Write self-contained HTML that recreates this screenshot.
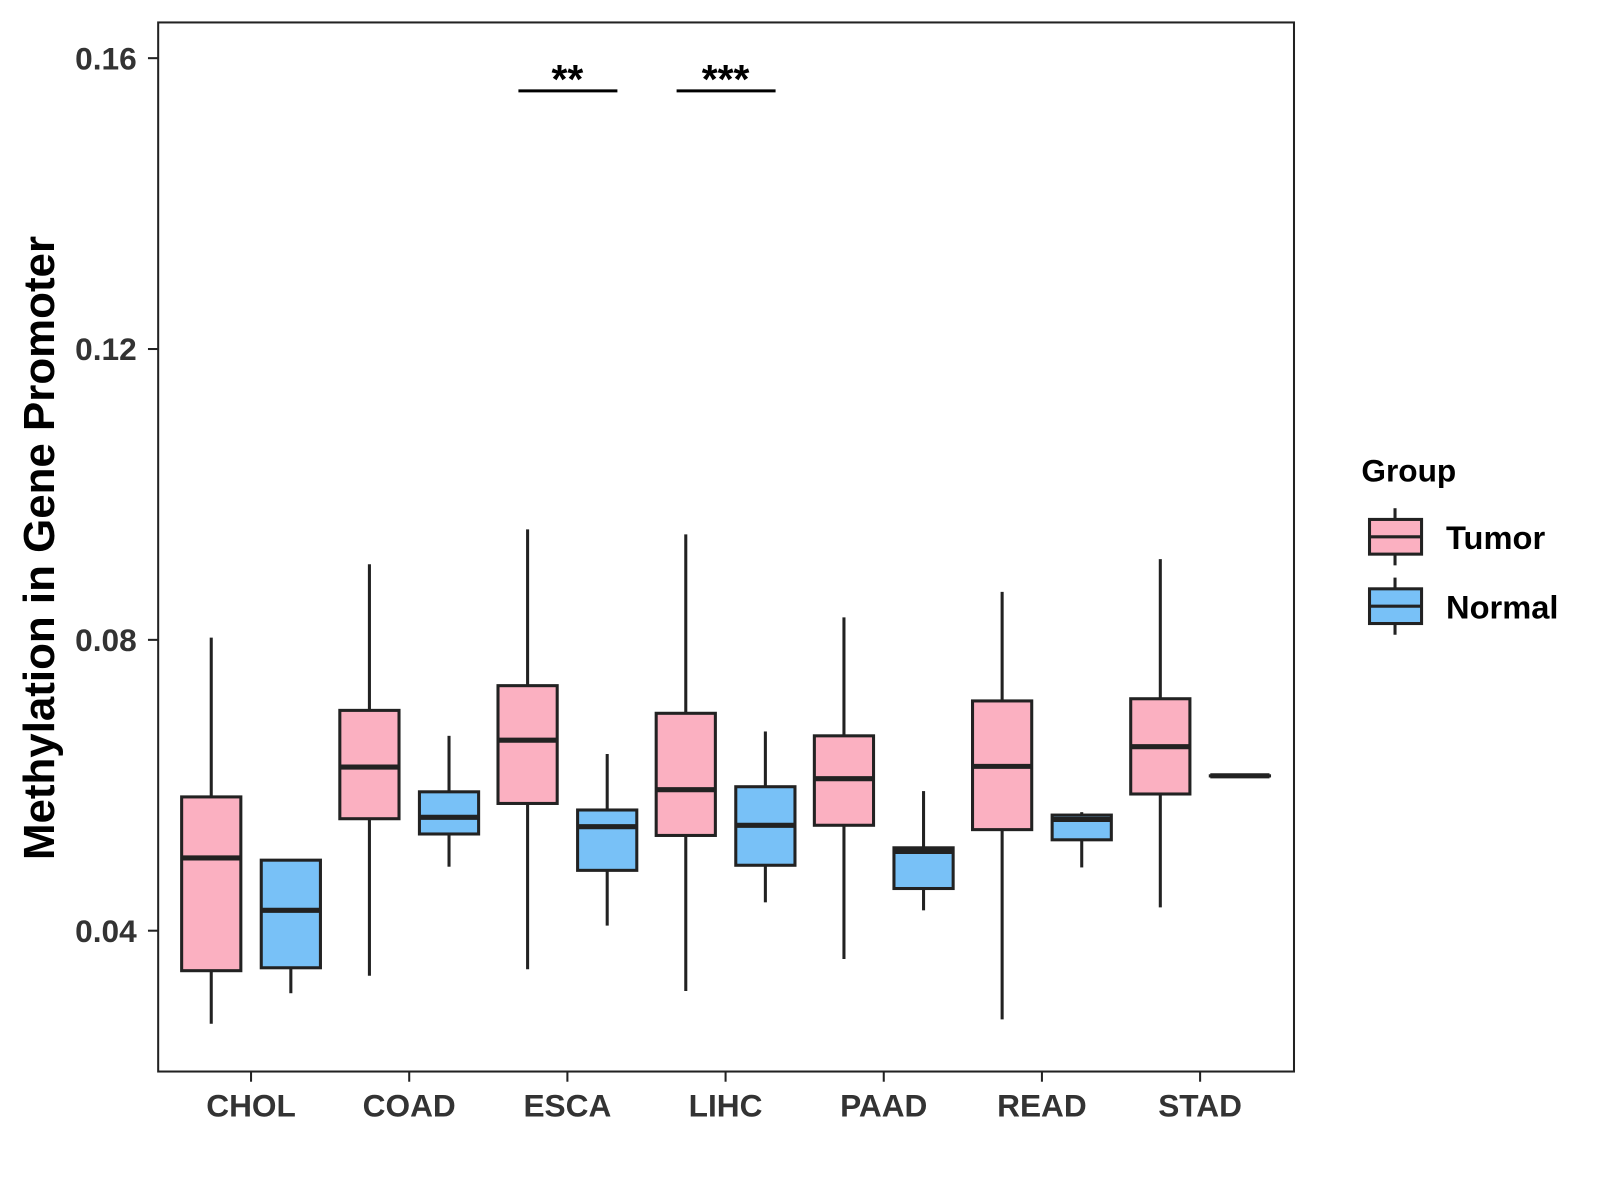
<!DOCTYPE html>
<html><head><meta charset="utf-8"><style>
body{margin:0;background:#fff;}
svg{display:block;font-family:"Liberation Sans",Arial,sans-serif;}
</style></head><body>
<svg id="chart" width="1600" height="1200" viewBox="0 0 1600 1200">
<g transform="scale(1.0205)">
<rect x="155" y="22" width="1113" height="1028" fill="#fff" stroke="#222" stroke-width="2"/>
<g id="marks"></g>
<g id="axes"></g>
<text transform="translate(53,537) rotate(-90)" text-anchor="middle" font-size="43" font-weight="bold" fill="#000">Methylation in Gene Promoter</text>
<g>
<text x="1334" y="472" font-size="31" font-weight="bold" fill="#000">Group</text>
<g>
<line x1="1367" y1="498" x2="1367" y2="554" stroke="#222" stroke-width="3"/>
<rect x="1342" y="509" width="51" height="34" fill="#FBB0C1" stroke="#222" stroke-width="3"/>
<line x1="1342" y1="526" x2="1393" y2="526" stroke="#222" stroke-width="3"/>
<text x="1417" y="538" font-size="32" font-weight="bold" fill="#000">Tumor</text>
</g>
<g>
<line x1="1367" y1="566" x2="1367" y2="622" stroke="#222" stroke-width="3"/>
<rect x="1342" y="577" width="51" height="34" fill="#78C1F7" stroke="#222" stroke-width="3"/>
<line x1="1342" y1="594" x2="1393" y2="594" stroke="#222" stroke-width="3"/>
<text x="1417" y="606" font-size="32" font-weight="bold" fill="#000">Normal</text>
</g>
</g>
</g>
</svg>
<script>
const categories=["CHOL","COAD","ESCA","LIHC","PAAD","READ","STAD"];
// [lower whisker, Q1, median, Q3, upper whisker]
const tumorStats=[
[0.0272,0.0345,0.0500,0.0584,0.0803],
[0.0338,0.0554,0.0625,0.0703,0.0904],
[0.0347,0.0575,0.0662,0.0737,0.0952],
[0.0317,0.0531,0.0594,0.0699,0.0945],
[0.0361,0.0545,0.0609,0.0668,0.0831],
[0.0278,0.0539,0.0626,0.0716,0.0866],
[0.0432,0.0588,0.0653,0.0719,0.0911]];
const normalStats=[
[0.0314,0.0349,0.0428,0.0497,0.0497],
[0.0488,0.0533,0.0556,0.0591,0.0668],
[0.0407,0.0483,0.0543,0.0566,0.0643],
[0.0439,0.0490,0.0545,0.0598,0.0674],
[0.0428,0.0458,0.0509,0.0514,0.0592],
[0.0487,0.0525,0.0553,0.0559,0.0563],
[0.0613,0.0613,0.0613,0.0613,0.0613]];
const yTicks=[0.04,0.08,0.12,0.16];
const yTickLabels=["0.04","0.08","0.12","0.16"];
const sigCategories=["ESCA","LIHC"];
const sigLabels=["**","***"];
const sigValue=0.1555;

const NS="http://www.w3.org/2000/svg";
const y=v=>912-(v-0.04)*7125;
const x=i=>246+i*155;
const marks=document.getElementById('marks'),axes=document.getElementById('axes');
function mk(tag,attrs,parent){const e=document.createElementNS(NS,tag);for(const k in attrs)e.setAttribute(k,attrs[k]);parent.appendChild(e);return e;}
function box(cx,s,fill,name){
 const g=mk('g',{},marks);
 
 
 const c={stroke:'#222','stroke-width':3};
 mk('line',Object.assign({x1:cx,x2:cx,y1:y(s[4]),y2:y(s[3])},c),g);
 mk('line',Object.assign({x1:cx,x2:cx,y1:y(s[1]),y2:y(s[0])},c),g);
 mk('rect',Object.assign({x:cx-29,width:58,y:y(s[3]),height:Math.max(0.1,y(s[1])-y(s[3])),fill:fill},c),g);
 mk('line',{x1:cx-29,x2:cx+29,y1:y(s[2]),y2:y(s[2]),stroke:'#222','stroke-width':5},g);
}
categories.forEach((c,i)=>{
 box(x(i)-39,tumorStats[i],'#FBB0C1','box-tumor-'+c.toLowerCase());
 box(x(i)+39,normalStats[i],'#78C1F7','box-normal-'+c.toLowerCase());
 mk('line',{x1:x(i),x2:x(i),y1:1050,y2:1060,stroke:'#222','stroke-width':2},axes);
 const t=mk('text',{x:x(i),y:1094,'text-anchor':'middle','font-size':31,'font-weight':'bold',fill:'#333'},axes);
 t.textContent=c;
 
 
});
yTicks.forEach((v,i)=>{
 mk('line',{x1:145,x2:155,y1:y(v),y2:y(v),stroke:'#222','stroke-width':2},axes);
 const t=mk('text',{x:134,y:y(v)+11,'text-anchor':'end','font-size':31,'font-weight':'bold',fill:'#333'},axes);
 t.textContent=yTickLabels[i];
 
 
});
sigCategories.forEach((c,k)=>{
 const i=categories.indexOf(c);
 const g=mk('g',{},marks);
 
 
 mk('line',{x1:x(i)-48,x2:x(i)+49,y1:y(sigValue),y2:y(sigValue),stroke:'#000','stroke-width':3},g);
 const t=mk('text',{x:x(i),y:y(sigValue)+2,'text-anchor':'middle','font-size':40,'font-weight':'bold',fill:'#000'},g);
 t.textContent=sigLabels[k];
});
</script>
</body></html>
